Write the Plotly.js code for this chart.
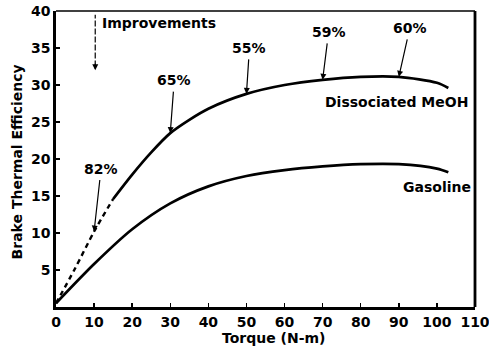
<!DOCTYPE html>
<html>
<head>
<meta charset="utf-8">
<script src="https://cdn.plot.ly/plotly-3.0.1.min.js"></script>
<style>html,body{margin:0;padding:0;background:#fff;}#chart{width:489px;height:347px;}</style>
</head>
<body>
<div id="chart"></div>
<script>
// Dissociated MeOH curve (dashed up to 15 N-m, solid after)
const meohTorque = [0, 5, 10, 15, 20, 25, 30, 35, 40, 50, 60, 70, 80, 90, 100, 103];
const meohEff    = [0.5, 5.2, 10.2, 14.6, 17.9, 20.9, 23.5, 25.3, 26.8, 28.8, 30.0, 30.7, 31.1, 31.1, 30.3, 29.6];
const dashEndTorque = 15;
// Gasoline curve
const gasTorque = [0, 10, 20, 30, 40, 50, 60, 70, 80, 90, 100, 103];
const gasEff    = [0.5, 5.8, 10.5, 14.0, 16.3, 17.7, 18.5, 19.0, 19.3, 19.3, 18.7, 18.2];
// Improvement labels
const improveTorque = [10, 30, 50, 70, 90];
const improveLabels = ['82%', '65%', '55%', '59%', '60%'];
// Axis ticks
const xTicks = [0, 10, 20, 30, 40, 50, 60, 70, 80, 90, 100, 110];
const yTicks = [5, 10, 15, 20, 25, 30, 35, 40];

function interp(xs, ys, x) {
  for (let i = 0; i < xs.length - 1; i++) {
    if (x >= xs[i] && x <= xs[i + 1]) {
      const t = (x - xs[i]) / (xs[i + 1] - xs[i]);
      return ys[i] + t * (ys[i + 1] - ys[i]);
    }
  }
  return ys[ys.length - 1];
}

const dashIdx = meohTorque.indexOf(dashEndTorque);
const FONT = 'DejaVu Sans, Arial, sans-serif';

const traces = [
  {x: meohTorque.slice(0, dashIdx + 1), y: meohEff.slice(0, dashIdx + 1), mode: 'lines',
   line: {color: '#000', width: 2.4, dash: '5px,4px', shape: 'spline', smoothing: 0.8}, hoverinfo: 'skip'},
  {x: meohTorque.slice(dashIdx), y: meohEff.slice(dashIdx), mode: 'lines',
   line: {color: '#000', width: 2.7, shape: 'spline', smoothing: 0.8}, hoverinfo: 'skip'},
  {x: gasTorque, y: gasEff, mode: 'lines',
   line: {color: '#000', width: 2.7, shape: 'spline', smoothing: 0.8}, hoverinfo: 'skip'}
];

const offsets = [[7, -63], [4, -53], [3, -46], [6, -48], [11, -49]];
const annotations = improveTorque.map((t, i) => ({
  x: t, y: interp(meohTorque, meohEff, t), xref: 'x', yref: 'y',
  text: '<b>' + improveLabels[i] + '</b>', showarrow: true,
  ax: offsets[i][0], ay: offsets[i][1], arrowhead: 2, arrowsize: 1, arrowwidth: 1.2,
  arrowcolor: '#000', standoff: 0, startstandoff: 2,
  font: {family: FONT, size: 14, color: '#000'}
}));
annotations.push(
  {x: 10.3, y: 32, xref: 'x', yref: 'y', text: '', showarrow: true, ax: 0, ay: -8,
   arrowhead: 2, arrowsize: 1, arrowwidth: 1.2, arrowcolor: '#000'},
  {x: 11.6, y: 38.4, xref: 'x', yref: 'y', text: '<b>Improvements</b>', showarrow: false,
   xanchor: 'left', font: {family: FONT, size: 14, color: '#000'}},
  {x: 89.5, y: 27.7, xref: 'x', yref: 'y', text: '<b>Dissociated MeOH</b>', showarrow: false,
   xanchor: 'center', font: {family: FONT, size: 14, color: '#000'}},
  {x: 100, y: 16.2, xref: 'x', yref: 'y', text: '<b>Gasoline</b>', showarrow: false,
   xanchor: 'center', font: {family: FONT, size: 14, color: '#000'}},
  {x: 0.52, y: -0.105, xref: 'paper', yref: 'paper', text: '<b>Torque (N-m)</b>', showarrow: false,
   xanchor: 'center', yanchor: 'middle', font: {family: FONT, size: 14, color: '#000'}},
  {x: -0.092, y: 0.49, xref: 'paper', yref: 'paper', text: '<b>Brake Thermal Efficiency</b>', showarrow: false,
   textangle: -90, xanchor: 'center', yanchor: 'middle', font: {family: FONT, size: 14, color: '#000'}}
);

const layout = {
  width: 489, height: 347,
  margin: {l: 56, r: 14, t: 11, b: 40, pad: 0},
  paper_bgcolor: '#fff', plot_bgcolor: '#fff',
  showlegend: false,
  font: {family: FONT, color: '#000'},
  xaxis: {
    range: [0, 110], tickvals: xTicks, ticktext: xTicks.map(v => '<b>' + v + '</b>'),
    ticks: 'inside', ticklen: 4, tickwidth: 1.5, tickcolor: '#000', ticklabeloverflow: 'allow',
    showline: true, linewidth: 2.8, linecolor: '#000', showgrid: false, zeroline: false,
    tickfont: {family: FONT, size: 14, color: '#000'}, fixedrange: true
  },
  yaxis: {
    range: [0, 40], tickvals: yTicks, ticktext: yTicks.map(v => '<b>' + v + '</b>'),
    ticks: 'inside', ticklen: 4, tickwidth: 1.5, tickcolor: '#000', ticklabeloverflow: 'allow',
    showline: true, linewidth: 2.8, linecolor: '#000', showgrid: false, zeroline: false,
    tickfont: {family: FONT, size: 14, color: '#000'}, fixedrange: true
  },
  shapes: [
    {type: 'line', xref: 'paper', yref: 'paper', x0: 1, x1: 1, y0: 0, y1: 1, line: {color: '#000', width: 2.8}},
    {type: 'line', xref: 'paper', yref: 'paper', x0: 0, x1: 1, y0: 1, y1: 1, line: {color: '#000', width: 1.5}},
    {type: 'line', xref: 'x', yref: 'y', x0: 10.3, x1: 10.3, y0: 32.5, y1: 39.5, line: {color: '#000', width: 1.2, dash: '6px,2px'}}
  ],
  annotations: annotations
};

Plotly.newPlot('chart', traces, layout, {displayModeBar: false, staticPlot: true});
</script>
</body>
</html>
